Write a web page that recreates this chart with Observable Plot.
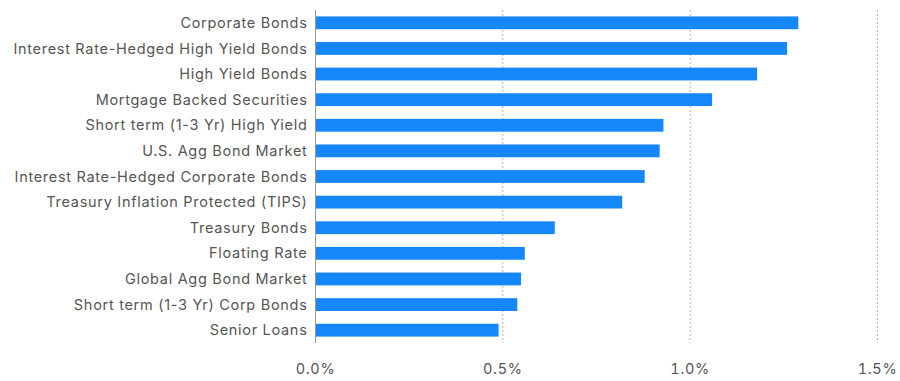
<!DOCTYPE html>
<html>
<head>
<meta charset="utf-8">
<script src="https://cdn.jsdelivr.net/npm/d3@7"></script>
<script src="https://cdn.jsdelivr.net/npm/@observablehq/plot@0.6"></script>
<style>
  html, body { margin: 0; padding: 0; background: #fff; }
  #chart svg { display: block; }
  #chart svg text { letter-spacing: 0.7px; }
</style>
</head>
<body>
<div id="chart"></div>
<script>
const categories = [
  "Corporate Bonds",
  "Interest Rate-Hedged High Yield Bonds",
  "High Yield Bonds",
  "Mortgage Backed Securities",
  "Short term (1-3 Yr) High Yield",
  "U.S. Agg Bond Market",
  "Interest Rate-Hedged Corporate Bonds",
  "Treasury Inflation Protected (TIPS)",
  "Treasury Bonds",
  "Floating Rate",
  "Global Agg Bond Market",
  "Short term (1-3 Yr) Corp Bonds",
  "Senior Loans"
];
const values = [1.29, 1.26, 1.18, 1.06, 0.93, 0.92, 0.88, 0.82, 0.64, 0.56, 0.55, 0.54, 0.49];
const xTicks = [0, 0.5, 1.0, 1.5];

const data = categories.map((c, i) => ({category: c, value: values[i]}));

const chart = Plot.plot({
  width: 900,
  height: 381,
  marginLeft: 315,
  marginRight: 23,
  marginTop: 10,
  marginBottom: 38,
  style: {fontFamily: "Inter, sans-serif", fontSize: "14.5px", color: "#555", background: "#fff"},
  x: {domain: [0, 1.5], ticks: xTicks, tickFormat: d => d.toFixed(1) + "%", label: null},
  y: {domain: categories, paddingInner: 0.5, paddingOuter: 0.25, round: false, label: null},
  marks: [
    Plot.ruleX(xTicks.slice(1), {stroke: "#b5b5b5", strokeDasharray: "2,2", strokeWidth: 1}),
    Plot.barX(data, {y: "category", x: "value", fill: "#1686fb"}),
    Plot.ruleX([0], {stroke: "#9a9a9a", strokeWidth: 1}),
    Plot.axisX({ticks: xTicks, tickSize: 0, tickPadding: 20, tickFormat: d => d.toFixed(1) + "%", label: null, fontSize: 14.5}),
    Plot.axisY({tickSize: 0, tickPadding: 8, label: null, fontSize: 14.5})
  ]
});
document.getElementById("chart").appendChild(chart);
</script>
</body>
</html>
